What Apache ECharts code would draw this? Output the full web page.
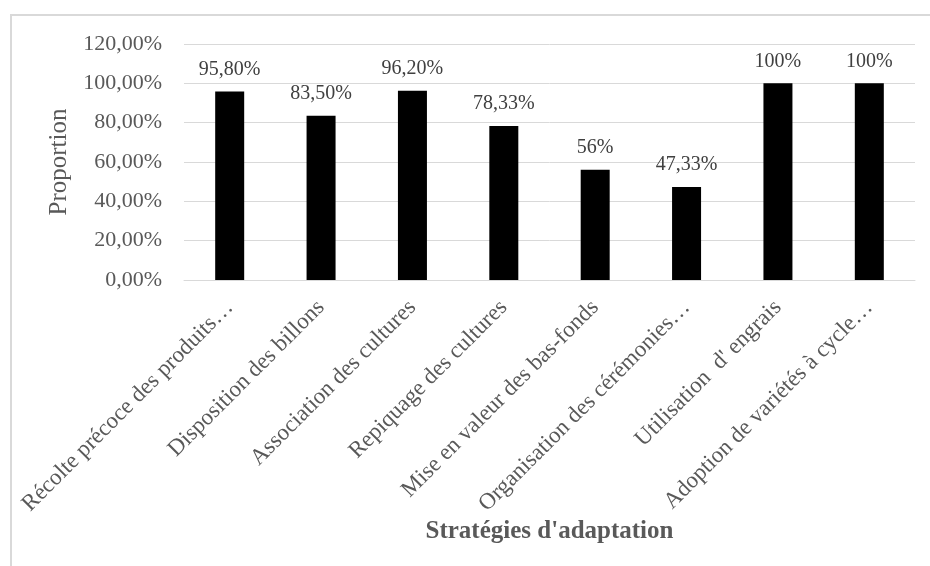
<!DOCTYPE html>
<html>
<head>
<meta charset="utf-8">
<script src="https://cdn.jsdelivr.net/npm/echarts@6/dist/echarts.min.js"></script>
<style>
html,body{margin:0;padding:0;background:#fff;}
#chart{width:930px;height:566px;}
</style>
</head>
<body>
<div id="chart"></div>
<script>
var categories = [
  "Récolte précoce des produits…",
  "Disposition des billons",
  "Association des cultures",
  "Repiquage des cultures",
  "Mise en valeur des bas-fonds",
  "Organisation des cérémonies…",
  "Utilisation  d' engrais",
  "Adoption de variétés à cycle…"
];
var values = [95.8, 83.5, 96.2, 78.33, 56, 47.33, 100, 100];
var valueLabels = ["95,80%", "83,50%", "96,20%", "78,33%", "56%", "47,33%", "100%", "100%"];
var yTicks = [0, 20, 40, 60, 80, 100, 120];
var yTickLabels = ["0,00%", "20,00%", "40,00%", "60,00%", "80,00%", "100,00%", "120,00%"];
var xAxisTitle = "Stratégies d'adaptation";
var yAxisTitle = "Proportion";

var FONT = "'Liberation Serif', 'Times New Roman', serif";
var chart = echarts.init(document.getElementById('chart'), null, {renderer: 'canvas'});
chart.setOption({
  animation: false,
  backgroundColor: '#ffffff',
  graphic: [{
    type: 'rect',
    shape: {x: 11, y: 15, width: 1000, height: 1000},
    style: {fill: 'none', stroke: '#d9d9d9', lineWidth: 2},
    silent: true, z: -1
  }],
  grid: {left: 184, right: 15, top: 44, bottom: 286, containLabel: false},
  xAxis: {
    type: 'category',
    data: categories,
    name: xAxisTitle,
    nameLocation: 'middle',
    nameGap: 236,
    nameTextStyle: {fontFamily: FONT, fontSize: 25, fontWeight: 'bold', color: '#595959'},
    axisLine: {lineStyle: {color: '#d9d9d9', width: 1}},
    axisTick: {show: false},
    axisLabel: {
      interval: 0, rotate: 45, margin: 24,
      fontFamily: FONT, fontSize: 23, color: '#595959'
    }
  },
  yAxis: {
    type: 'value',
    min: 0, max: 120, interval: 20,
    name: yAxisTitle,
    nameLocation: 'middle',
    nameGap: 112,
    nameTextStyle: {fontFamily: FONT, fontSize: 25, color: '#595959'},
    axisLine: {show: false},
    axisTick: {show: false},
    splitLine: {lineStyle: {color: '#d9d9d9', width: 1}},
    axisLabel: {
      margin: 22,
      fontFamily: FONT, fontSize: 22, color: '#595959',
      formatter: function (v) { var i = yTicks.indexOf(v); return i >= 0 ? yTickLabels[i] : ''; }
    }
  },
  series: [{
    type: 'bar',
    data: values,
    barWidth: 29,
    itemStyle: {color: '#000000'},
    label: {
      show: true, position: 'top', distance: 12,
      fontFamily: FONT, fontSize: 20, color: '#404040',
      formatter: function (p) { return valueLabels[p.dataIndex]; }
    }
  }]
});
</script>
</body>
</html>
